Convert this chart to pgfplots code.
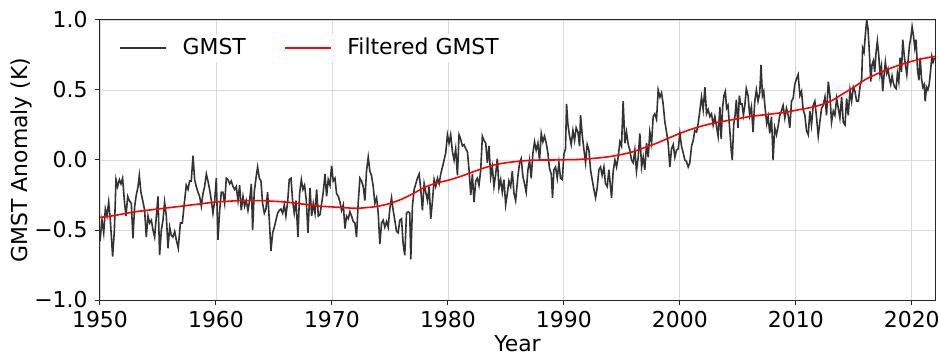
\documentclass[border=0pt]{standalone}
\usepackage{fontspec}
\setmainfont{DejaVu Sans}
\usepackage{pgfplots}
\pgfplotsset{compat=1.18}
\pgfplotstableread{
x y
1950.00 -0.58
1950.17 -0.43
1950.32 -0.52
1950.46 -0.35
1950.60 -0.40
1950.75 -0.30
1950.89 -0.43
1951.09 -0.69
1951.24 -0.50
1951.38 -0.14
1951.52 -0.19
1951.67 -0.14
1951.81 -0.17
1951.95 -0.13
1952.10 -0.29
1952.24 -0.40
1952.39 -0.26
1952.53 -0.29
1952.70 -0.31
1952.84 -0.56
1952.99 -0.33
1953.13 -0.25
1953.28 -0.19
1953.39 -0.11
1953.53 -0.23
1953.71 -0.30
1953.85 -0.36
1953.99 -0.55
1954.14 -0.40
1954.28 -0.45
1954.43 -0.43
1954.57 -0.50
1954.71 -0.55
1954.86 -0.40
1955.00 -0.26
1955.14 -0.68
1955.29 -0.50
1955.43 -0.43
1955.57 -0.30
1955.72 -0.40
1955.86 -0.63
1956.01 -0.48
1956.15 -0.54
1956.29 -0.55
1956.44 -0.51
1956.58 -0.57
1956.75 -0.63
1956.93 -0.45
1957.10 -0.45
1957.27 -0.31
1957.44 -0.18
1957.59 -0.21
1957.73 -0.15
1957.87 -0.15
1958.02 0.03
1958.16 -0.14
1958.30 -0.19
1958.45 -0.23
1958.59 -0.26
1958.74 -0.33
1958.88 -0.24
1959.02 -0.19
1959.17 -0.10
1959.31 -0.15
1959.45 -0.21
1959.60 -0.29
1959.74 -0.38
1959.89 -0.29
1960.03 -0.13
1960.17 -0.57
1960.32 -0.36
1960.46 -0.23
1960.60 -0.23
1960.75 -0.31
1960.89 -0.13
1961.03 -0.14
1961.18 -0.17
1961.32 -0.15
1961.47 -0.19
1961.61 -0.21
1961.75 -0.19
1961.90 -0.29
1962.04 -0.18
1962.18 -0.36
1962.33 -0.26
1962.47 -0.33
1962.61 -0.29
1962.76 -0.36
1962.90 -0.29
1963.05 -0.17
1963.16 -0.50
1963.30 -0.23
1963.45 -0.13
1963.59 -0.05
1963.74 -0.13
1963.88 -0.15
1964.02 -0.31
1964.17 -0.38
1964.31 -0.35
1964.45 -0.23
1964.60 -0.43
1964.74 -0.65
1964.89 -0.52
1965.03 -0.48
1965.17 -0.43
1965.32 -0.38
1965.46 -0.36
1965.60 -0.35
1965.75 -0.38
1965.89 -0.32
1966.03 -0.40
1966.18 -0.30
1966.32 -0.14
1966.47 -0.13
1966.61 -0.29
1966.75 -0.38
1966.90 -0.29
1967.07 -0.55
1967.21 -0.24
1967.36 -0.14
1967.50 -0.21
1967.64 -0.18
1967.79 -0.29
1967.93 -0.52
1968.11 -0.20
1968.25 -0.40
1968.39 -0.31
1968.54 -0.38
1968.68 -0.21
1968.82 -0.40
1968.97 -0.39
1969.11 -0.31
1969.25 -0.23
1969.40 -0.10
1969.54 -0.26
1969.68 -0.14
1969.83 -0.18
1969.97 -0.04
1970.11 -0.15
1970.26 -0.13
1970.40 -0.24
1970.55 -0.26
1970.69 -0.30
1970.83 -0.36
1970.98 -0.32
1971.12 -0.49
1971.26 -0.40
1971.41 -0.42
1971.55 -0.37
1971.69 -0.40
1971.84 -0.44
1971.98 -0.45
1972.12 -0.55
1972.27 -0.30
1972.41 -0.13
1972.55 -0.15
1972.70 -0.19
1972.84 -0.29
1972.98 -0.08
1973.13 0.02
1973.27 -0.08
1973.41 -0.11
1973.56 -0.19
1973.70 -0.31
1973.85 -0.27
1973.99 -0.38
1974.13 -0.60
1974.28 -0.45
1974.42 -0.43
1974.56 -0.48
1974.71 -0.44
1974.85 -0.48
1974.99 -0.35
1975.14 -0.27
1975.28 -0.36
1975.42 -0.43
1975.57 -0.51
1975.71 -0.52
1975.85 -0.43
1976.00 -0.42
1976.14 -0.60
1976.28 -0.68
1976.43 -0.38
1976.57 -0.37
1976.71 -0.38
1976.80 -0.71
1976.94 -0.33
1977.09 -0.21
1977.23 -0.17
1977.37 -0.13
1977.52 -0.10
1977.66 -0.21
1977.80 -0.36
1977.95 -0.17
1978.09 -0.23
1978.24 -0.29
1978.38 -0.19
1978.52 -0.42
1978.67 -0.29
1978.81 -0.14
1978.95 -0.19
1979.10 -0.13
1979.24 -0.17
1979.38 -0.10
1979.53 -0.05
1979.67 0.00
1979.81 0.05
1979.96 0.18
1980.10 0.12
1980.24 0.18
1980.39 0.06
1980.53 0.00
1980.67 0.08
1980.82 -0.11
1980.96 0.18
1981.10 0.15
1981.25 0.10
1981.39 0.11
1981.54 0.08
1981.68 0.06
1981.82 -0.07
1981.97 -0.25
1982.11 -0.10
1982.25 -0.30
1982.40 -0.15
1982.54 -0.13
1982.68 -0.18
1982.83 -0.07
1982.97 0.17
1983.11 0.14
1983.26 0.12
1983.40 -0.02
1983.54 0.10
1983.69 -0.12
1983.83 -0.05
1983.97 -0.19
1984.12 -0.10
1984.26 0.01
1984.40 -0.20
1984.55 -0.14
1984.69 -0.23
1984.83 -0.14
1984.98 -0.32
1985.12 -0.24
1985.26 -0.15
1985.41 -0.19
1985.55 -0.08
1985.70 -0.24
1985.84 -0.29
1986.03 -0.12
1986.18 -0.02
1986.32 0.01
1986.47 -0.12
1986.61 -0.17
1986.75 -0.23
1986.90 -0.07
1987.04 0.00
1987.18 -0.13
1987.33 0.05
1987.47 0.13
1987.61 0.07
1987.76 0.12
1987.90 0.00
1988.05 0.19
1988.19 0.13
1988.33 0.17
1988.48 0.12
1988.62 0.05
1988.76 -0.06
1988.91 -0.10
1989.02 -0.27
1989.14 -0.07
1989.28 -0.05
1989.43 -0.13
1989.57 -0.02
1989.71 -0.13
1989.86 -0.14
1990.00 0.04
1990.14 0.08
1990.23 0.40
1990.34 0.26
1990.49 0.17
1990.63 0.11
1990.78 0.21
1990.92 0.14
1991.06 0.23
1991.21 0.20
1991.35 0.10
1991.44 0.32
1991.58 0.18
1991.72 0.08
1991.87 -0.02
1992.01 0.11
1992.16 0.07
1992.30 -0.07
1992.44 -0.14
1992.59 -0.21
1992.73 -0.27
1992.87 -0.20
1993.02 -0.07
1993.16 -0.05
1993.30 -0.11
1993.45 -0.05
1993.59 -0.17
1993.74 -0.19
1993.88 -0.07
1994.02 -0.19
1994.11 -0.27
1994.25 -0.08
1994.40 0.00
1994.54 -0.05
1994.68 0.02
1994.83 0.13
1994.97 0.10
1995.11 0.42
1995.26 0.12
1995.40 0.20
1995.55 0.11
1995.69 0.07
1995.83 0.00
1995.98 -0.02
1996.12 0.07
1996.26 -0.08
1996.41 0.02
1996.55 0.19
1996.70 -0.05
1996.84 0.02
1996.98 -0.07
1997.13 0.12
1997.27 0.02
1997.41 0.20
1997.56 0.12
1997.70 0.31
1997.84 0.33
1997.99 0.29
1998.13 0.50
1998.28 0.45
1998.42 0.48
1998.56 0.40
1998.71 0.27
1998.85 0.20
1998.99 0.12
1999.14 -0.05
1999.28 0.08
1999.43 0.11
1999.57 0.02
1999.71 0.07
1999.86 0.08
2000.00 0.19
2000.14 0.10
2000.29 0.05
2000.43 0.00
2000.57 -0.01
2000.72 -0.05
2000.86 -0.02
2001.01 0.10
2001.15 0.14
2001.29 0.21
2001.44 0.20
2001.58 0.26
2001.72 0.35
2001.87 0.45
2002.01 0.36
2002.16 0.52
2002.30 0.33
2002.44 0.36
2002.59 0.31
2002.73 0.33
2002.87 0.25
2003.02 0.31
2003.16 0.24
2003.30 0.17
2003.45 0.38
2003.56 0.15
2003.69 0.38
2003.80 0.46
2003.92 0.49
2004.03 0.37
2004.15 0.39
2004.29 0.23
2004.44 0.06
2004.52 0.00
2004.64 0.25
2004.76 0.32
2004.87 0.43
2005.01 0.23
2005.13 0.46
2005.24 0.40
2005.36 0.40
2005.48 0.32
2005.59 0.38
2005.73 0.51
2005.88 0.46
2006.02 0.32
2006.17 0.38
2006.31 0.20
2006.46 0.42
2006.60 0.50
2006.74 0.42
2006.89 0.48
2007.00 0.68
2007.12 0.46
2007.23 0.49
2007.35 0.37
2007.49 0.26
2007.61 0.31
2007.75 0.19
2007.90 0.31
2008.04 0.00
2008.18 0.23
2008.33 0.18
2008.47 0.24
2008.62 0.32
2008.76 0.35
2008.90 0.39
2009.05 0.30
2009.19 0.37
2009.34 0.32
2009.48 0.23
2009.63 0.42
2009.77 0.44
2009.91 0.54
2010.06 0.58
2010.20 0.61
2010.35 0.46
2010.49 0.49
2010.63 0.36
2010.78 0.32
2010.92 0.21
2011.07 0.18
2011.21 0.35
2011.35 0.25
2011.50 0.39
2011.64 0.42
2011.79 0.30
2011.93 0.17
2012.07 0.27
2012.22 0.37
2012.36 0.39
2012.51 0.45
2012.65 0.32
2012.80 0.56
2012.94 0.46
2013.08 0.27
2013.23 0.35
2013.37 0.32
2013.52 0.44
2013.66 0.37
2013.80 0.30
2013.95 0.45
2014.09 0.27
2014.24 0.25
2014.38 0.44
2014.52 0.32
2014.67 0.50
2014.81 0.42
2014.96 0.52
2015.10 0.49
2015.24 0.42
2015.39 0.42
2015.53 0.52
2015.68 0.58
2015.76 0.80
2015.88 0.77
2015.99 0.89
2016.11 1.00
2016.22 0.94
2016.34 0.77
2016.46 0.56
2016.57 0.68
2016.69 0.71
2016.80 0.63
2016.92 0.77
2017.03 0.85
2017.15 0.75
2017.26 0.61
2017.38 0.67
2017.49 0.49
2017.61 0.61
2017.72 0.70
2017.84 0.62
2017.95 0.65
2018.07 0.58
2018.18 0.54
2018.30 0.60
2018.41 0.55
2018.53 0.52
2018.65 0.51
2018.76 0.62
2018.88 0.56
2018.99 0.73
2019.11 0.63
2019.22 0.86
2019.34 0.75
2019.45 0.68
2019.57 0.61
2019.68 0.71
2019.80 0.82
2019.91 0.87
2020.03 0.95
2020.14 0.89
2020.26 0.80
2020.37 0.86
2020.49 0.65
2020.61 0.57
2020.72 0.73
2020.84 0.58
2020.95 0.52
2021.07 0.54
2021.15 0.42
2021.27 0.52
2021.38 0.50
2021.50 0.54
2021.61 0.63
2021.73 0.74
2021.84 0.70
2021.96 0.73
}\gmst
\pgfplotstableread{
x y
1950 -0.41
1951 -0.40
1952 -0.385
1953 -0.37
1954 -0.36
1955 -0.35
1956 -0.34
1957 -0.33
1958 -0.32
1959 -0.31
1960 -0.30
1961 -0.295
1962 -0.29
1963 -0.29
1964 -0.29
1965 -0.295
1966 -0.30
1967 -0.31
1968 -0.32
1969 -0.33
1970 -0.335
1971 -0.34
1972 -0.345
1973 -0.34
1974 -0.33
1975 -0.31
1976 -0.28
1977 -0.24
1978 -0.195
1979 -0.165
1980 -0.145
1981 -0.12
1982 -0.09
1983 -0.06
1984 -0.035
1985 -0.02
1986 -0.01
1987 -0.003
1988 0.0
1989 0.0
1990 0.002
1991 0.003
1992 0.008
1993 0.015
1994 0.025
1995 0.04
1996 0.06
1997 0.09
1998 0.12
1999 0.155
2000 0.19
2001 0.22
2002 0.245
2003 0.265
2004 0.28
2005 0.295
2006 0.31
2007 0.32
2008 0.33
2009 0.34
2010 0.355
2011 0.37
2012 0.39
2013 0.42
2014 0.47
2015 0.52
2016 0.575
2017 0.615
2018 0.65
2019 0.68
2020 0.705
2021 0.725
2022 0.74
}\filt
\begin{document}
\fontsize{22}{26}\selectfont
\begin{tikzpicture}
\useasboundingbox (-100bp,-56bp) rectangle (839bp,300bp);
\begin{axis}[
  name=ax, at={(0,0)}, anchor=south west,
  scale only axis, width=835bp, height=280bp,
  xmin=1950, xmax=2022, ymin=-1, ymax=1,
  xtick={1950,1960,1970,1980,1990,2000,2010,2020},
  xticklabels={1950,1960,1970,1980,1990,2000,2010,2020},
  ytick={-1,-0.5,0,0.5,1},
  yticklabels={−1.0,−0.5,0.0,0.5,1.0},
  tick align=outside, tick pos=left,
  major tick length=5bp,
  grid=major, grid style={gray!30, line width=0.8bp},
  axis line style={black!85, line width=1bp},
  every tick/.style={black!85, line width=1bp},
  xlabel={Year}, ylabel={GMST Anomaly (K)},
  tick label style={font=\fontsize{22}{26}\selectfont},
  label style={font=\fontsize{22}{26}\selectfont},
  xticklabel style={yshift=1bp},
  xlabel style={yshift=7bp},
  ylabel style={yshift=-13bp},
  legend columns=2,
  legend style={draw=none, fill=white, at={(0.019,0.95)}, anchor=north west,
    font=\fontsize{22}{26}\selectfont,
    /tikz/every odd column/.append style={column sep=14bp},
    /tikz/every even column/.append style={column sep=36bp}},
  legend image code/.code={\draw[#1] (0bp,0bp) -- (46bp,0bp);},
]
\addplot[color=black!80, line width=1.6bp] table[x=x,y=y] {\gmst};
\addlegendentry{GMST}
\addplot[color=red, line width=1.6bp, smooth] table[x=x,y=y] {\filt};
\addlegendentry{Filtered GMST}
\end{axis}
\end{tikzpicture}
\end{document}
